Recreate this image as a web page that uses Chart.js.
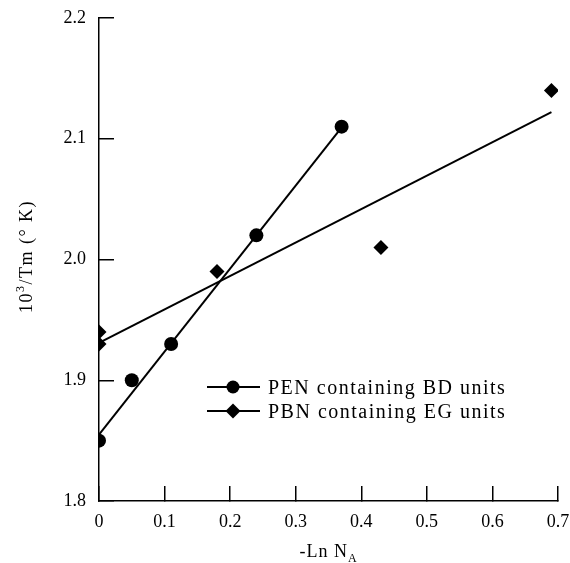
<!DOCTYPE html>
<html>
<head>
<meta charset="utf-8">
<script src="https://cdn.jsdelivr.net/npm/chart.js@4.4.1/dist/chart.umd.min.js"></script>
<style>
  html, body { margin: 0; padding: 0; background: #fff; }
  #wrap { width: 570px; height: 563px; }
</style>
</head>
<body>
<div id="wrap"><canvas id="chart" width="570" height="563"></canvas></div>
<script>
// PEN containing BD units (circles)
const penX = [0, 0.05, 0.11, 0.24, 0.37];
const penY = [1.85, 1.90, 1.93, 2.02, 2.11];
// PBN containing EG units (diamonds)
const pbnX = [0, 0, 0.18, 0.43, 0.69];
const pbnY = [1.94, 1.93, 1.99, 2.01, 2.14];

// fitted straight lines (end points)
const penFitX = [0, 0.371];
const penFitY = [1.855, 2.11];
const pbnFitX = [0, 0.69];
const pbnFitY = [1.931, 2.122];

const xTicks = [0, 0.1, 0.2, 0.3, 0.4, 0.5, 0.6, 0.7];
const yTicks = [1.8, 1.9, 2.0, 2.1, 2.2];
const seriesNames = ['PEN containing BD units', 'PBN containing EG units'];

const FONT = "'Liberation Serif', 'Times New Roman', serif";

const zip = (xs, ys) => xs.map((x, i) => ({ x, y: ys[i] }));

// draw a run of text pieces (normal / sup / sub) starting at x, baseline y
function drawPieces(ctx, pieces, x, y) {
  pieces.forEach(p => {
    ctx.font = p.size + 'px ' + FONT;
    ctx.fillText(p.text, x, y + (p.dy || 0));
    x += ctx.measureText(p.text).width;
  });
}
function piecesWidth(ctx, pieces) {
  let w = 0;
  pieces.forEach(p => {
    ctx.font = p.size + 'px ' + FONT;
    w += ctx.measureText(p.text).width;
  });
  return w;
}

// drop the label overflow padding so layout.padding alone places the plot area
function noPad(s) {
  s.paddingTop = 0;
  s.paddingBottom = 0;
  s.paddingLeft = 0;
  s.paddingRight = 0;
}

const decorPlugin = {
  id: 'decor',
  afterDraw(chart) {
    const ctx = chart.ctx;
    const area = chart.chartArea;
    ctx.save();
    ctx.fillStyle = '#000';
    ctx.strokeStyle = '#000';
    ctx.textBaseline = 'alphabetic';
    ctx.textAlign = 'left';

    // x axis title
    const xt = [
      { text: '-Ln N', size: 18 },
      { text: 'A', size: 12, dy: 5 }
    ];
    ctx.letterSpacing = '1px';
    const xc = (area.left + area.right) / 2;
    drawPieces(ctx, xt, xc - piecesWidth(ctx, xt) / 2, 557);

    // y axis title, rotated
    const yt = [
      { text: '10', size: 18 },
      { text: '3', size: 12, dy: -8 },
      { text: '/Tm (\u00B0 K)', size: 18 }
    ];
    ctx.letterSpacing = '1.5px';
    ctx.save();
    ctx.translate(32, (area.top + area.bottom) / 2 - 3);
    ctx.rotate(-Math.PI / 2);
    drawPieces(ctx, yt, -piecesWidth(ctx, yt) / 2, 0);
    ctx.restore();

    // legend
    const rows = [
      { y: 387, style: 'circle', radius: 6.5 },
      { y: 411, style: 'rectRot', radius: 7.5 }
    ];
    rows.forEach((r, i) => {
      ctx.lineWidth = 2;
      ctx.beginPath();
      ctx.moveTo(207, r.y);
      ctx.lineTo(260, r.y);
      ctx.stroke();
      Chart.helpers.drawPoint(ctx, { pointStyle: r.style, radius: r.radius, borderWidth: 0, rotation: 0 }, 233, r.y);
      ctx.font = '20px ' + FONT;
      ctx.letterSpacing = '1.5px';
      ctx.fillText(seriesNames[i], 268, r.y + 6.5);
    });
    ctx.letterSpacing = '0px';
    ctx.restore();
  }
};

const lineDs = (data) => ({
  type: 'line',
  data,
  borderColor: '#000',
  borderWidth: 2,
  pointRadius: 0,
  fill: false,
  tension: 0
});

new Chart(document.getElementById('chart'), {
  type: 'scatter',
  data: {
    datasets: [
      lineDs(zip(penFitX, penFitY)),
      lineDs(zip(pbnFitX, pbnFitY)),
      {
        label: seriesNames[0],
        data: zip(penX, penY),
        pointStyle: 'circle',
        pointRadius: 7,
        backgroundColor: '#000',
        borderWidth: 0
      },
      {
        label: seriesNames[1],
        data: zip(pbnX, pbnY),
        pointStyle: 'rectRot',
        pointRadius: 7.5,
        backgroundColor: '#000',
        borderWidth: 0
      }
    ]
  },
  options: {
    responsive: false,
    animation: false,
    layout: { padding: { left: 0, top: 18, right: 12, bottom: 0 } },
    plugins: {
      legend: { display: false },
      tooltip: { enabled: false }
    },
    scales: {
      x: {
        type: 'linear',
        min: 0,
        max: 0.7,
        afterBuildTicks: (s) => { s.ticks = xTicks.map(v => ({ value: v })); },
        afterFit: (s) => { s.height = 62; noPad(s); },
        border: { display: true, color: '#000', width: 1.5 },
        grid: { display: true, drawOnChartArea: false, drawTicks: true, tickLength: -15, color: '#000', lineWidth: 1.5 },
        ticks: {
          padding: 25,
          color: '#000',
          font: { family: FONT, size: 18 },
          maxRotation: 0,
          callback: (v) => v === 0 ? '0' : v.toFixed(1)
        }
      },
      y: {
        type: 'linear',
        min: 1.8,
        max: 2.2,
        afterBuildTicks: (s) => { s.ticks = yTicks.map(v => ({ value: v })); },
        afterFit: (s) => { s.width = 99; noPad(s); },
        border: { display: true, color: '#000', width: 1.5 },
        grid: { display: true, drawOnChartArea: false, drawTicks: true, tickLength: -15, color: '#000', lineWidth: 1.5 },
        ticks: {
          padding: 28,
          color: '#000',
          font: { family: FONT, size: 18 },
          callback: (v) => v.toFixed(1)
        }
      }
    }
  },
  plugins: [decorPlugin]
});
</script>
</body>
</html>
